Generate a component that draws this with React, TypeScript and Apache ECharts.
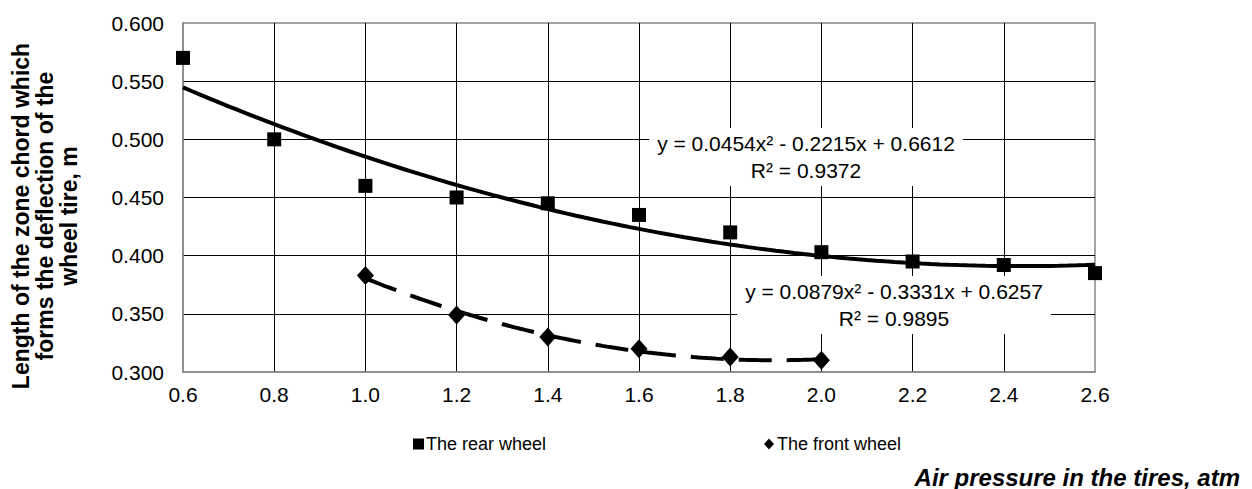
import React, { useEffect, useRef } from "react";
import * as echarts from "echarts";

// ---- data ----
const pressure = [0.6, 0.8, 1.0, 1.2, 1.4, 1.6, 1.8, 2.0, 2.2, 2.4, 2.6];
const rearWheel = [0.57, 0.5, 0.46, 0.45, 0.445, 0.435, 0.42, 0.403, 0.395, 0.392, 0.385];
const frontPressure = [1.0, 1.2, 1.4, 1.6, 1.8, 2.0];
const frontWheel = [0.383, 0.349, 0.33, 0.32, 0.313, 0.31];

// polynomial trendline coefficients shown on the chart (a, b, c for ax² + bx + c)
const rearTrendCoef = [0.0454, -0.2215, 0.6612];
const frontTrendCoef = [0.0879, -0.3331, 0.6257];
const rearTrendRange = [0.6, 2.6];
const frontTrendRange = [1.0, 2.0];

const rearEquation = "y = 0.0454x² - 0.2215x + 0.6612\nR² = 0.9372";
const frontEquation = "y = 0.0879x² - 0.3331x + 0.6257\nR² = 0.9895";

const seriesNames = ["The rear wheel", "The front wheel"];
const yTitle = "Length of the zone chord which\nforms the deflection of the\nwheel tire, m";
const xTitle = "Air pressure in the tires, atm";

const xMin = 0.6, xMax = 2.6, xStep = 0.2;
const yMin = 0.3, yMax = 0.6, yStep = 0.05;

const FONT = "'Liberation Sans', Arial, sans-serif";
const NARROW = "'Liberation Sans Narrow', 'Liberation Sans', Arial, sans-serif";

function trend(coef: number[], range: number[]) {
  const pts: number[][] = [];
  const n = 100;
  for (let i = 0; i <= n; i++) {
    const x = range[0] + ((range[1] - range[0]) * i) / n;
    pts.push([x, coef[0] * x * x + coef[1] * x + coef[2]]);
  }
  return pts;
}

export default function App() {
  const ref = useRef<HTMLDivElement>(null);
  useEffect(() => {
    if (!ref.current) return;
    const chart = echarts.init(ref.current, undefined, { renderer: "svg" });
    const option: any = {
      animation: false,
      backgroundColor: "#fff",
      grid: {
        left: 183, top: 23, width: 912, height: 349,
        show: true, borderColor: "#888", borderWidth: 1.5, backgroundColor: "transparent",
      },
      xAxis: {
        type: "value", min: xMin, max: xMax, interval: xStep,
        axisLine: { show: true, lineStyle: { color: "#888", width: 1.5 } },
        axisTick: { show: false },
        splitLine: { show: true, showMinLine: false, showMaxLine: false, lineStyle: { color: "#000", width: 1 } },
        axisLabel: { color: "#000", fontSize: 21, fontFamily: FONT, margin: 12, formatter: (v: number) => v.toFixed(1) },
      },
      yAxis: {
        type: "value", min: yMin, max: yMax, interval: yStep,
        axisLine: { show: true, lineStyle: { color: "#888", width: 1.5 } },
        axisTick: { show: false },
        splitLine: { show: true, showMinLine: false, showMaxLine: false, lineStyle: { color: "#000", width: 1 } },
        axisLabel: { color: "#000", fontSize: 21, fontFamily: FONT, margin: 19, formatter: (v: number) => v.toFixed(3) },
      },
      legend: [
        {
          data: [seriesNames[0]], left: 413, top: 435, icon: "rect", itemWidth: 11, itemHeight: 11, itemGap: 0,
          textStyle: { color: "#000", fontSize: 18, fontFamily: NARROW, padding: [0, 0, 0, -3] }, padding: 0,
        },
        {
          data: [seriesNames[1]], left: 764, top: 435, icon: "diamond", itemWidth: 10, itemHeight: 11, itemGap: 0,
          textStyle: { color: "#000", fontSize: 18, fontFamily: NARROW, padding: [0, 0, 0, -2] }, padding: 0,
        },
      ],
      series: [
        {
          name: "rearTrend", type: "line", data: trend(rearTrendCoef, rearTrendRange), showSymbol: false,
          lineStyle: { color: "#000", width: 4 }, z: 2, silent: true,
        },
        {
          name: "frontTrend", type: "line", data: trend(frontTrendCoef, frontTrendRange), showSymbol: false,
          lineStyle: { color: "#000", width: 4, type: [33, 15] }, z: 2, silent: true,
        },
        {
          name: seriesNames[0], type: "scatter", symbol: "rect", symbolSize: 14,
          data: pressure.map((x, i) => [x, rearWheel[i]]), itemStyle: { color: "#000", opacity: 1 }, z: 3,
        },
        {
          name: seriesNames[1], type: "scatter", symbol: "diamond", symbolSize: [17, 19],
          data: frontPressure.map((x, i) => [x, frontWheel[i]]), itemStyle: { color: "#000", opacity: 1 }, z: 3,
        },
      ],
      graphic: [
        {
          type: "text", x: 806, y: 157, z: 10,
          style: {
            text: rearEquation, font: `21px ${FONT}`, fill: "#000", align: "center", verticalAlign: "middle",
            lineHeight: 27, backgroundColor: "#fff", padding: [2, 8, 2, 8],
          },
        },
        {
          type: "text", x: 894, y: 305, z: 10,
          style: {
            text: frontEquation, font: `21px ${FONT}`, fill: "#000", align: "center", verticalAlign: "middle",
            lineHeight: 27, backgroundColor: "#fff", padding: [2, 8, 2, 8],
          },
        },
        {
          type: "text", x: 45, y: 216, rotation: Math.PI / 2, z: 10,
          style: {
            text: yTitle, font: `bold 23px ${FONT}`, fill: "#000", align: "center", verticalAlign: "middle",
            lineHeight: 24,
          },
        },
        {
          type: "text", x: 1240, y: 477, z: 10,
          style: {
            text: xTitle, font: `italic bold 24px ${FONT}`, fill: "#000", align: "right", verticalAlign: "middle",
          },
        },
      ],
    };
    chart.setOption(option);
    return () => chart.dispose();
  }, []);
  return (
    <div
      ref={ref}
      style={{ position: "fixed", left: 0, top: 0, width: 1252, height: 489, background: "#fff" }}
    />
  );
}
